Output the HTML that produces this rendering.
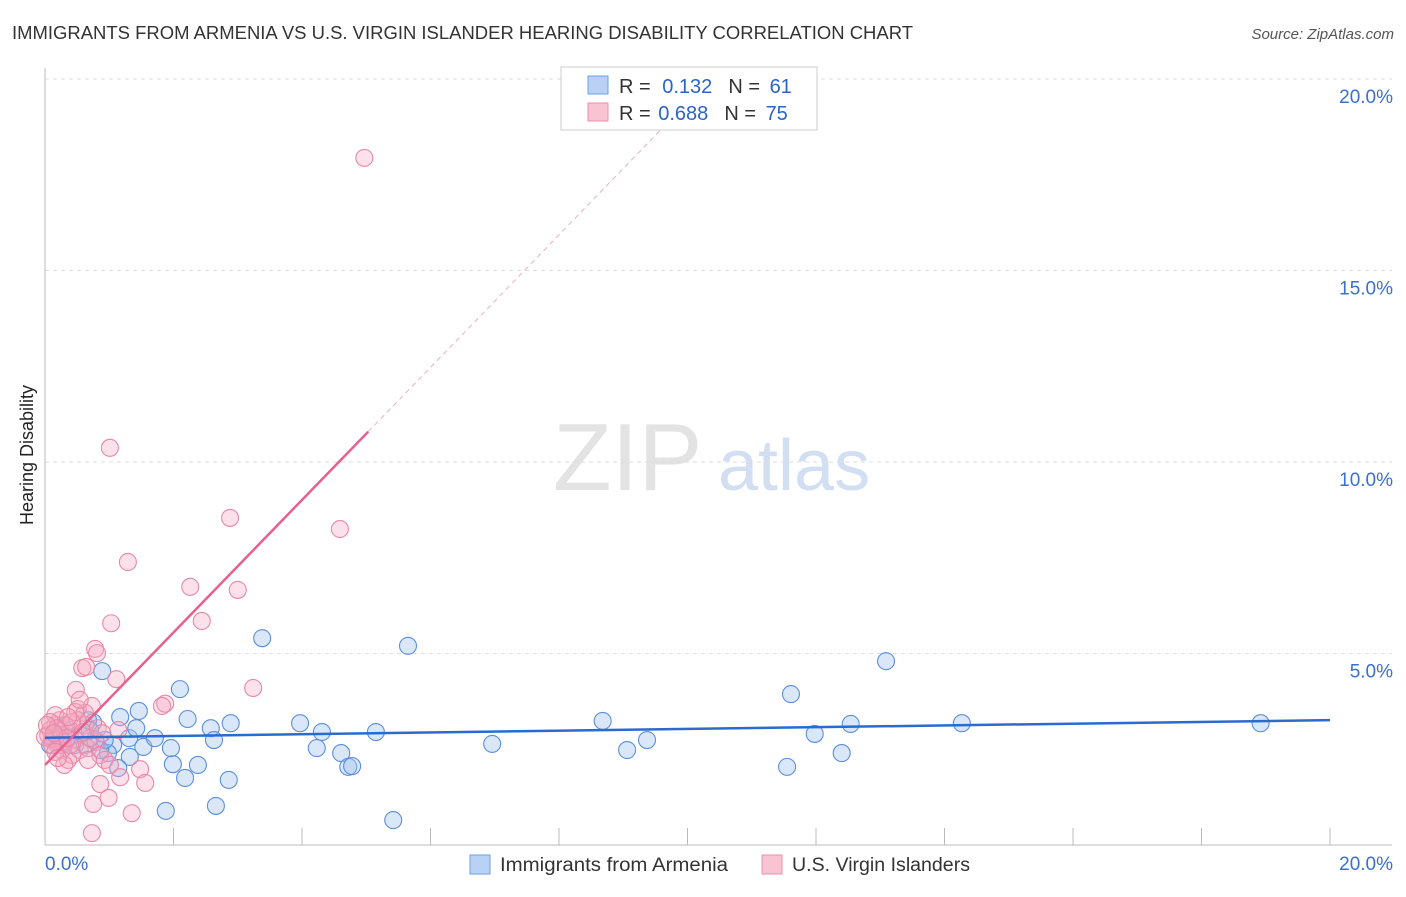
<!DOCTYPE html>
<html><head><meta charset="utf-8"><style>
body{margin:0;background:#fff;font-family:"Liberation Sans",sans-serif;}
svg text{font-family:"Liberation Sans",sans-serif;}
</style></head><body>
<svg id="chart" width="1406" height="892" xmlns="http://www.w3.org/2000/svg">
<text x="12" y="39" font-size="18" fill="#333" textLength="901" lengthAdjust="spacingAndGlyphs">IMMIGRANTS FROM ARMENIA VS U.S. VIRGIN ISLANDER HEARING DISABILITY CORRELATION CHART</text>
<text x="1394" y="39" font-size="15" fill="#555" text-anchor="end" font-style="italic">Source: ZipAtlas.com</text>
<text x="553" y="490" font-size="96" fill="#ddd" font-family="Liberation Serif" opacity="0.8">ZIP</text>
<text x="718" y="490" font-size="72" fill="#c8d8f0" opacity="0.8">atlas</text>
<text transform="translate(33,455) rotate(-90)" font-size="18" fill="#222" text-anchor="middle">Hearing Disability</text>
<g id="grid"></g><g id="marks"></g>
<g>
<rect x="561" y="67" width="256" height="63" fill="#fff" stroke="#ccc"/>
<rect x="588" y="76" width="20" height="18" fill="#b9d1f5" stroke="#6f9fe0"/>
<rect x="588" y="103" width="20" height="18" fill="#f9c3d3" stroke="#ec8faa"/>
<text x="619" y="93" font-size="20" fill="#333">R = <tspan fill="#2a64c8" dx="6">0.132</tspan><tspan dx="16" fill="#333">N = </tspan><tspan fill="#2a64c8" dx="4">61</tspan></text>
<text x="619" y="120" font-size="20" fill="#333">R = <tspan fill="#2a64c8" dx="2">0.688</tspan><tspan dx="16" fill="#333">N = </tspan><tspan fill="#2a64c8" dx="4">75</tspan></text>
</g>
<g>
<rect x="470" y="855" width="20" height="19" fill="#b9d1f5" stroke="#6f9fe0"/>
<text x="500" y="871" font-size="19" fill="#333" textLength="228" lengthAdjust="spacingAndGlyphs">Immigrants from Armenia</text>
<rect x="762" y="855" width="20" height="19" fill="#f9c3d3" stroke="#ec8faa"/>
<text x="792" y="871" font-size="19" fill="#333" textLength="178" lengthAdjust="spacingAndGlyphs">U.S. Virgin Islanders</text>
</g>
</svg>
<script>
const blueX=[0.75,0.89,1.17,1.46,2.1,2.22,2.58,2.63,2.89,3.38,3.97,4.31,4.23,4.61,4.72,4.78,5.15,5.65,5.42,6.96,8.68,9.06,9.37,11.55,11.61,11.98,12.4,12.54,13.09,14.27,18.92,1.88,2.66,2.86,2.18,2.38,1.99,1.96,1.53,1.71,1.32,1.31,1.06,0.98,0.86,0.67,0.39,0.23,0.16,0.08,0.31,0.54,0.47,1.14,1.42,0.93,0.78,0.7,0.26,0.2,0.62];
const blueY=[3.2,4.54,3.34,3.5,4.07,3.29,3.05,2.74,3.18,5.4,3.18,2.95,2.53,2.4,2.04,2.06,2.95,5.2,0.65,2.64,3.24,2.48,2.74,2.04,3.94,2.9,2.4,3.16,4.8,3.18,3.18,0.89,1.02,1.7,1.75,2.09,2.11,2.53,2.56,2.79,2.3,2.79,2.61,2.4,2.48,3.26,2.82,3.0,2.74,2.61,3.13,2.87,2.61,2.01,3.05,2.74,2.74,3.0,2.61,2.87,2.61];
const pinkX=[4.97,1.01,2.88,4.59,1.29,2.26,3.0,1.03,2.44,0.78,0.81,0.58,0.64,1.11,3.24,0.48,1.87,1.82,0.73,0.51,0.62,1.14,1.48,1.17,0.86,0.75,0.99,1.35,1.56,0.73,0.23,0.16,0.08,0.11,0.2,0.31,0.39,0.47,0.36,0.42,0.54,0.26,0.33,0.16,0.05,0.08,0.12,0.23,0.19,0.28,0.39,0.67,0.79,0.86,0.93,1.01,0.62,0.51,0.7,0.0,0.03,0.11,0.16,0.34,0.42,0.59,0.67,0.3,0.2,0.47,0.54,0.82,0.89,0.36,0.14];
const pinkY=[17.94,10.37,8.54,8.25,7.39,6.74,6.66,5.79,5.85,5.12,5.01,4.62,4.65,4.33,4.1,4.05,3.69,3.63,3.63,3.55,3.45,3.0,1.98,1.77,1.59,1.07,1.23,0.83,1.62,0.31,3.26,3.13,3.0,2.74,2.61,2.87,3.0,2.74,2.22,2.35,2.48,2.48,3.13,3.39,2.87,3.21,2.79,2.79,3.05,2.69,2.61,2.53,2.69,2.35,2.22,2.09,3.13,3.26,2.79,2.82,3.13,2.61,2.43,2.79,3.21,2.95,2.22,2.09,2.27,3.47,3.79,3.05,2.92,3.34,2.92];
const yTicks=[5,10,15,20];
const yTickLabels=["5.0%","10.0%","15.0%","20.0%"];
const xTicks=[0,2,4,6,8,10,12,14,16,18,20];
const blueLine=[[0,2.8],[20,3.26]];
const pinkSolid=[[0,2.09],[5.03,10.79]];
const pinkDash=[[5.03,10.79],[10.35,20]];
const sx=v=>45+v*64.25, sy=v=>845-v*38.3;
const NS="http://www.w3.org/2000/svg";
const grid=document.getElementById('grid'), marks=document.getElementById('marks');
function mk(tag,attrs,parent){const e=document.createElementNS(NS,tag);for(const k in attrs)e.setAttribute(k,attrs[k]);parent.appendChild(e);return e;}
yTicks.forEach((t,i)=>{
 const l=mk('line',{x1:45,x2:1392,y1:sy(t),y2:sy(t),stroke:'#ddd','stroke-dasharray':'4,4'},grid);
 
 
 const tx=mk('text',{x:1393,y:sy(t)+24,'font-size':19,fill:'#3a70d0','text-anchor':'end'},grid);
 tx.textContent=yTickLabels[i];
 
 
});
const ax=mk('line',{x1:45,x2:45,y1:68,y2:845,stroke:'#bbb'},grid);


const bx=mk('line',{x1:45,x2:1392,y1:845,y2:845,stroke:'#bbb'},grid);


xTicks.forEach(t=>{const l=mk('line',{x1:sx(t),x2:sx(t),y1:828,y2:845,stroke:'#bbb'},grid);
 
 });
const x0=mk('text',{x:45,y:870,'font-size':19,fill:'#3a70d0'},grid);x0.textContent='0.0%';


const x1=mk('text',{x:1393,y:870,'font-size':19,fill:'#3a70d0','text-anchor':'end'},grid);x1.textContent='20.0%';


blueX.forEach((v,i)=>{const c=mk('circle',{cx:sx(v),cy:sy(blueY[i]),r:8.5,fill:'rgba(160,195,240,0.4)',stroke:'#5b8fdc','stroke-width':1.1},marks);
 
 });
pinkX.forEach((v,i)=>{const c=mk('circle',{cx:sx(v),cy:sy(pinkY[i]),r:8.5,fill:'rgba(245,170,195,0.35)',stroke:'#e889a6','stroke-width':1.1},marks);
 
 });
const bl=mk('line',{x1:sx(blueLine[0][0]),y1:sy(blueLine[0][1]),x2:sx(blueLine[1][0]),y2:sy(blueLine[1][1]),stroke:'#2a6bd0','stroke-width':2.5},marks);


const pl=mk('line',{x1:sx(pinkSolid[0][0]),y1:sy(pinkSolid[0][1]),x2:sx(pinkSolid[1][0]),y2:sy(pinkSolid[1][1]),stroke:'#e8608c','stroke-width':2.5},marks);


const pd=mk('line',{x1:sx(pinkDash[0][0]),y1:sy(pinkDash[0][1]),x2:sx(pinkDash[1][0]),y2:sy(pinkDash[1][1]),stroke:'#e8b0c2','stroke-width':1,'stroke-dasharray':'5,4'},marks);


</script>
</body></html>
